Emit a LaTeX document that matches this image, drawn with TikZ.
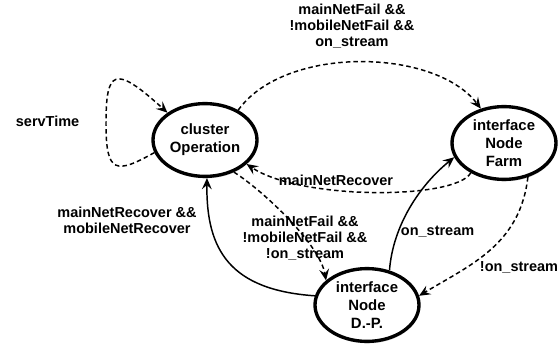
\documentclass[tikz,border=0pt]{standalone}
\usepackage{fontspec}
\setmainfont{Liberation Sans}
\usetikzlibrary{arrows.meta}
\usetikzlibrary{shapes.geometric}
\usetikzlibrary{shadows}

\begin{document}
\begin{tikzpicture}[
    state/.style={ellipse, draw, line width=2.4pt, fill=white,
        minimum width=2.6cm, minimum height=1.82cm, inner sep=0pt, align=center,
        font=\fontsize{10.6}{13}\selectfont\bfseries,
        drop shadow={opacity=0.35, shadow xshift=0.6pt, shadow yshift=-1.4pt}},
    trans/.style={line width=1.05pt, -{Stealth[length=8pt,width=7pt,inset=3pt]}},
    dashtrans/.style={trans, dash pattern=on 3.2pt off 2.2pt},
    lbl/.style={align=center, font=\fontsize{10.3}{11.3}\selectfont\bfseries}
]
    \useasboundingbox (0,0) rectangle (14,8.8);

    % 三个状态
    \node[state] (cl) at (5.125,5.3) {cluster\\Operation};
    \node[state] (farm) at (12.6,5.225) {interface\\Node\\Farm};
    \node[state] (dp) at (9.175,1.175) {interface\\Node\\D.-P.};

    % 状态之间的转移
    \draw[dashtrans] (cl.194) .. controls (2.9,4.45) and (2.65,4.45) .. (2.65,5.7)
        .. controls (2.65,7.05) and (2.85,7.2) .. (cl.144);
    \node[lbl] (servlbl) at (1.19,5.775) {servTime};

    \draw[dashtrans] (cl.42) .. controls (7.125,7.675) and (10.875,7.6) .. (farm.124);
    \node[lbl] (failon) at (8.8,8.15) {mainNetFail \&\&\\!mobileNetFail \&\&\\on\_stream};

    \draw[dashtrans] (farm.222) .. controls (11.375,3.8) and (7.5,3.8) .. (cl.-30);
    \node[lbl] (recover) at (8.4,4.3) {mainNetRecover};

    \draw[dashtrans] (farm.-55) .. controls (13,2.675) and (11.75,2.175) .. (dp.10);
    \node[lbl] (notstream) at (12.975,2.125) {!on\_stream};

    \draw[trans] (dp.57) .. controls (9.825,3.175) and (10.5,4.175) .. (farm.196);
    \node[lbl] (stream) at (10.94,3.0) {on\_stream};

    \draw[trans] (dp.170) .. controls (5.75,1.55) and (5.15,2.55) .. (cl.-87);
    \node[lbl] (bothrec) at (3.175,3.3) {mainNetRecover \&\&\\mobileNetRecover};

    \draw[dashtrans] (cl.-48) .. controls (6.625,4.0) and (8.0,2.675) .. (dp.149);
    \node[lbl] (failoff) at (7.625,2.85) {mainNetFail \&\&\\!mobileNetFail \&\&\\!on\_stream};

\end{tikzpicture}
\end{document}
